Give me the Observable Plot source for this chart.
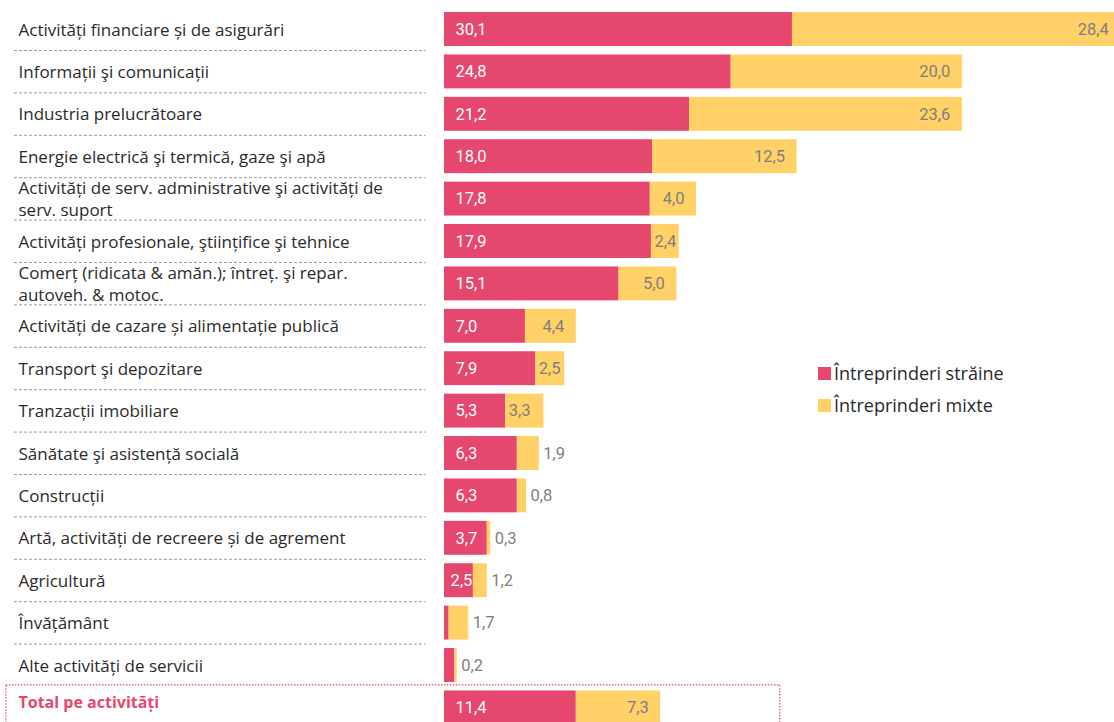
<!DOCTYPE html>
<html>
<head>
<meta charset="utf-8">
<script src="https://cdn.jsdelivr.net/npm/d3@7"></script>
<script src="https://cdn.jsdelivr.net/npm/@observablehq/plot@0.6"></script>
<style>
  html, body { margin: 0; padding: 0; background: #fff; overflow: hidden; }
  #wrap { position: relative; width: 1114px; height: 722px; overflow: hidden; font-family: "Open Sans", "Noto Sans", sans-serif; }
  #legend { position: absolute; left: 818px; top: 357px; font-size: 18px; color: #2a2a2a; }
  #legend div { display: flex; align-items: center; height: 32px; }
  #legend span.sw { display: inline-block; width: 13px; height: 13px; margin-right: 3px; }
</style>
</head>
<body>
<div id="wrap"><div id="legend"></div></div>
<script>
const categories = [
  "Activități financiare și de asigurări",
  "Informații şi comunicații",
  "Industria prelucrătoare",
  "Energie electrică şi termică, gaze şi apă",
  "Activități de serv. administrative şi activități de\nserv. suport",
  "Activități profesionale, ştiințifice şi tehnice",
  "Comerț (ridicata & amăn.); întreț. şi repar.\nautoveh. & motoc.",
  "Activități de cazare și alimentație publică",
  "Transport şi depozitare",
  "Tranzacții imobiliare",
  "Sănătate şi asistență socială",
  "Construcții",
  "Artă, activități de recreere și de agrement",
  "Agricultură",
  "Învățământ",
  "Alte activități de servicii",
  "Total pe activități"
];
const straine = [30.1, 24.8, 21.2, 18.0, 17.8, 17.9, 15.1, 7.0, 7.9, 5.3, 6.3, 6.3, 3.7, 2.5, 0.4, 0.9, 11.4];
const mixte   = [28.4, 20.0, 23.6, 12.5, 4.0, 2.4, 5.0, 4.4, 2.5, 3.3, 1.9, 0.8, 0.3, 1.2, 1.7, 0.2, 7.3];
const seriesNames = ["Întreprinderi străine", "Întreprinderi mixte"];
const seriesColors = ["#e6476e", "#ffd166"];

const totalLabel = categories[categories.length - 1];
const rows = categories.map((c, i) => ({cat: c, s: straine[i], m: mixte[i], total: c === totalLabel}));
const fmt = v => v.toFixed(1).replace(".", ",");
const pink = seriesColors[0], yellow = seriesColors[1];
const numFont = "Roboto, sans-serif";

const chart = Plot.plot({
  width: 1114,
  height: 722,
  marginLeft: 0, marginRight: 0, marginTop: 0, marginBottom: 0,
  style: {fontFamily: "'Open Sans', 'Noto Sans', sans-serif", fontSize: "16px", background: "#fff", overflow: "hidden"},
  x: {domain: [0, 60], range: [444, 444 + 60 * 11.56], axis: null},
  y: {domain: categories, range: [7.8, 728.6], paddingInner: 0.2, paddingOuter: 0.1, round: false, axis: null},
  marks: [
    // separators
    Plot.ruleY(rows.filter(d => !d.total && d.cat !== categories[categories.length - 2]), {
      y: "cat", dy: 21, x1: -37.2, x2: -1.6, stroke: "#9a9a9a", strokeWidth: 1, strokeDasharray: "3,2"
    }),
    // total box
    Plot.barX(rows.filter(d => d.total), {
      y: "cat", x1: -37.9, x2: 29.05, fill: "none", stroke: pink, strokeWidth: 1.2,
      strokeDasharray: "1.5,1.5", insetTop: -5.5, insetBottom: -20
    }),
    // bars
    Plot.barX(rows, {y: "cat", x1: 0, x2: "s", fill: pink}),
    Plot.barX(rows, {y: "cat", x1: "s", x2: d => d.s + d.m, fill: yellow}),
    // category labels
    Plot.text(rows.filter(d => !d.total), {
      y: "cat", text: "cat", frameAnchor: "left", dx: 18, dy: -1, textAnchor: "start",
      lineHeight: 1.3, fill: "#2a2a2a", fontSize: 17
    }),
    Plot.text(rows.filter(d => d.total), {
      y: "cat", text: "cat", frameAnchor: "left", dx: 18, dy: -5, textAnchor: "start",
      fill: pink, fontSize: 16, fontWeight: "bold"
    }),
    // red value labels
    Plot.text(rows.filter(d => d.s >= 3.5), {
      y: "cat", x: 0, dx: 11, text: d => fmt(d.s), textAnchor: "start", fill: "#fff", fontSize: 16.5, fontFamily: numFont
    }),
    Plot.text(rows.filter(d => d.s >= 2 && d.s < 3.5), {
      y: "cat", x: "s", dx: -1, text: d => fmt(d.s), textAnchor: "end", fill: "#fff", fontSize: 16.5, fontFamily: numFont
    }),
    // yellow value labels
    Plot.text(rows.filter(d => d.m >= 3.5), {
      y: "cat", x: d => d.s + d.m, dx: -12, text: d => fmt(d.m), textAnchor: "end", fill: "#7f7f7f", fontSize: 16.5, fontFamily: numFont
    }),
    Plot.text(rows.filter(d => d.m >= 2 && d.m < 3.5), {
      y: "cat", x: "s", dx: 3, text: d => fmt(d.m), textAnchor: "start", fill: "#7f7f7f", fontSize: 16.5, fontFamily: numFont
    }),
    Plot.text(rows.filter(d => d.m < 2), {
      y: "cat", x: d => d.s + d.m, dx: 4, text: d => fmt(d.m), textAnchor: "start", fill: "#7f7f7f", fontSize: 16.5, fontFamily: numFont
    })
  ]
});
const wrap = document.getElementById("wrap");
wrap.insertBefore(chart, wrap.firstChild);

const legend = document.getElementById("legend");
seriesNames.forEach((n, i) => {
  const row = document.createElement("div");
  const sw = document.createElement("span");
  sw.className = "sw";
  sw.style.background = seriesColors[i];
  row.appendChild(sw);
  row.appendChild(document.createTextNode(n));
  legend.appendChild(row);
});
</script>
</body>
</html>
